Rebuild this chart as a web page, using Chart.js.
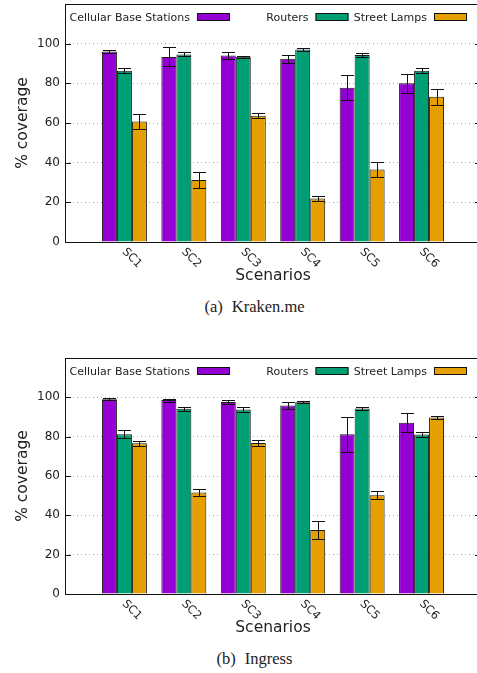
<!DOCTYPE html>
<html>
<head>
<meta charset="utf-8">
<script src="https://cdn.jsdelivr.net/npm/chart.js@4.4.1/dist/chart.umd.min.js"></script>
<style>
  html, body { margin: 0; padding: 0; background: #fff; overflow: hidden; }
  body { width: 477px; height: 673px; position: relative; }
  .panel { position: absolute; left: 0; width: 477px; height: 292px; overflow: hidden; }
  .panel canvas { position: absolute; left: 0; top: 0; }
  .caption { position: absolute; left: 0; width: 509px; text-align: center; line-height: 20px;
             font-family: 'Liberation Serif', 'DejaVu Serif', serif; font-size: 16.5px; color: #222; }
  .caption span + span { margin-left: 9px; }
</style>
</head>
<body>
<div class="panel" style="top:0"><canvas id="chart-a" width="482" height="292"></canvas></div>
<div class="caption" style="top:297px"><span>(a)</span><span>Kraken.me</span></div>
<div class="panel" style="top:352px"><canvas id="chart-b" width="482" height="292"></canvas></div>
<div class="caption" style="top:649px"><span>(b)</span><span>Ingress</span></div>

<script>
// categories and series
const SCENARIOS = ['SC1', 'SC2', 'SC3', 'SC4', 'SC5', 'SC6'];
const SERIES_NAMES = ['Cellular Base Stations', 'Routers', 'Street Lamps'];
const COLORS = ['#9400D3', '#009E73', '#E69F00'];

// (a) Kraken.me — mean coverage and std deviation
const KRAKEN_BASE        = [96.0, 93.3, 94.0, 92.4, 77.8, 80.1];
const KRAKEN_BASE_ERR    = [0.8, 4.8, 1.7, 2.0, 6.3, 4.8];
const KRAKEN_ROUTERS     = [86.4, 94.6, 93.4, 97.0, 94.3, 86.3];
const KRAKEN_ROUTERS_ERR = [1.2, 1.0, 0.6, 0.6, 0.8, 1.3];
const KRAKEN_LAMPS       = [60.7, 31.2, 63.7, 21.9, 36.5, 73.2];
const KRAKEN_LAMPS_ERR   = [3.6, 4.0, 1.3, 1.3, 3.7, 3.9];

// (b) Ingress
const INGRESS_BASE        = [99.0, 98.6, 97.6, 95.8, 81.2, 87.1];
const INGRESS_BASE_ERR    = [0.5, 0.8, 0.8, 1.8, 9.0, 4.7];
const INGRESS_ROUTERS     = [81.2, 94.2, 93.8, 97.5, 94.3, 81.1];
const INGRESS_ROUTERS_ERR = [2.0, 1.0, 1.1, 0.5, 0.8, 1.4];
const INGRESS_LAMPS       = [76.7, 51.6, 76.8, 32.5, 50.2, 89.8];
const INGRESS_LAMPS_ERR   = [1.2, 1.7, 1.4, 4.6, 2.0, 0.6];

const Y_MAX = 120;
const Y_STEP = 20;

const FONT = 'DejaVu Sans';
const TEXT = '#222';

// error bars, frame, rotated x labels and the in-plot legend
const decor = {
    id: 'decor',
    afterDatasetsDraw(chart) {
        const ctx = chart.ctx;
        const y = chart.scales.y;
        ctx.save();
        ctx.strokeStyle = '#111';
        ctx.lineWidth = 1;
        chart.data.datasets.forEach((ds, k) => {
            const meta = chart.getDatasetMeta(k);
            meta.data.forEach((bar, i) => {
                const v = ds.data[i].y, e = ds.errors[i];
                const x = Math.round(bar.x) + 0.5;
                const yt = Math.round(y.getPixelForValue(v + e)) + 0.5;
                const yb = Math.round(y.getPixelForValue(v - e)) + 0.5;
                ctx.beginPath();
                ctx.moveTo(x, yt); ctx.lineTo(x, yb);
                ctx.moveTo(x - 6.5, yt); ctx.lineTo(x + 6.5, yt);
                ctx.moveTo(x - 6.5, yb); ctx.lineTo(x + 6.5, yb);
                ctx.stroke();
            });
        });
        ctx.restore();
    },
    afterDraw(chart) {
        const ctx = chart.ctx;
        const { left, right, top, bottom } = chart.chartArea;
        const x = chart.scales.x, y = chart.scales.y;
        ctx.save();

        // frame
        ctx.strokeStyle = '#111';
        ctx.lineWidth = 1;
        ctx.strokeRect(Math.round(left) + 0.5, Math.round(top) + 0.5,
            Math.round(right - left) - 1, Math.round(bottom - top));

        // inward tick marks on both sides
        ctx.beginPath();
        for (let v = Y_STEP; v < Y_MAX; v += Y_STEP) {
            const py = Math.round(y.getPixelForValue(v)) + 0.5;
            ctx.moveTo(left, py); ctx.lineTo(left + 6, py);
            ctx.moveTo(right, py); ctx.lineTo(right - 6, py);
        }
        ctx.stroke();

        // rotated scenario labels
        ctx.fillStyle = TEXT;
        ctx.font = `11.5px "${FONT}"`;
        ctx.textAlign = 'left';
        ctx.textBaseline = 'top';
        SCENARIOS.forEach((label, i) => {
            const px = x.getPixelForValue(i + 1);
            ctx.save();
            ctx.translate(px + 3.5, bottom + 4);
            ctx.rotate(Math.PI / 4);
            ctx.fillText(label, 0, 0);
            ctx.restore();
        });

        // legend: text then sample box, three columns
        ctx.font = `11px "${FONT}"`;
        ctx.textAlign = 'right';
        ctx.textBaseline = 'alphabetic';
        SERIES_NAMES.forEach((name, k) => {
            const tx = left + 125 + k * 118.5;
            const ty = top + 17;
            ctx.fillStyle = TEXT;
            ctx.fillText(name, tx, ty);
            ctx.fillStyle = COLORS[k];
            ctx.fillRect(tx + 7, top + 9.5, 33, 7);
            ctx.strokeStyle = '#111';
            ctx.strokeRect(tx + 7.5, top + 9.5, 32, 7);
        });

        ctx.restore();
    }
};

function makeChart(id, values, errors, topPad) {
    return new Chart(document.getElementById(id), {
        type: 'bar',
        data: {
            datasets: SERIES_NAMES.map((name, k) => ({
                label: name,
                data: values[k].map((v, i) => ({ x: i + 1, y: v })),
                errors: errors[k],
                backgroundColor: COLORS[k],
                borderColor: '#1a1a1a',
                borderWidth: 1,
                borderSkipped: 'start',
                categoryPercentage: 0.757,
                barPercentage: 1.0
            }))
        },
        options: {
            responsive: false,
            animation: false,
            layout: { padding: { top: topPad, right: 1, left: 0, bottom: 0 } },
            plugins: { legend: { display: false }, tooltip: { enabled: false } },
            scales: {
                x: {
                    type: 'linear',
                    min: 0,
                    max: SCENARIOS.length + 1,
                    offset: false,
                    ticks: { display: false },
                    grid: { display: false },
                    border: { display: false },
                    title: {
                        display: true,
                        text: 'Scenarios',
                        color: TEXT,
                        font: { family: FONT, size: 15.5 },
                        padding: { top: 0, bottom: 7 }
                    },
                    afterFit: s => { s.height = 50; s.paddingLeft = 0; s.paddingRight = 0; }
                },
                y: {
                    min: 0,
                    max: Y_MAX,
                    ticks: {
                        stepSize: Y_STEP,
                        padding: 5,
                        color: TEXT,
                        font: { family: FONT, size: 12 },
                        callback: v => v === Y_MAX ? '' : v
                    },
                    grid: { color: '#a8a8a8', lineWidth: 1, drawTicks: false },
                    border: { display: false, dash: [1, 3] },
                    title: {
                        display: true,
                        text: '% coverage',
                        color: TEXT,
                        font: { family: FONT, size: 15.5 },
                        padding: { top: 14, bottom: 0 }
                    },
                    afterFit: s => { s.width = 65; s.paddingTop = 0; s.paddingBottom = 0; }
                }
            }
        },
        plugins: [decor]
    });
}

makeChart('chart-a',
    [KRAKEN_BASE, KRAKEN_ROUTERS, KRAKEN_LAMPS],
    [KRAKEN_BASE_ERR, KRAKEN_ROUTERS_ERR, KRAKEN_LAMPS_ERR], 4);
makeChart('chart-b',
    [INGRESS_BASE, INGRESS_ROUTERS, INGRESS_LAMPS],
    [INGRESS_BASE_ERR, INGRESS_ROUTERS_ERR, INGRESS_LAMPS_ERR], 6);
</script>
</body>
</html>
